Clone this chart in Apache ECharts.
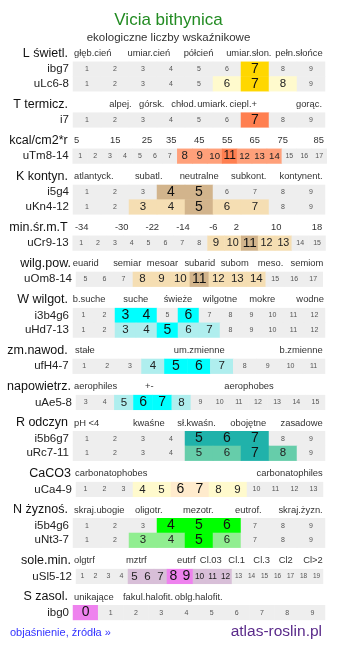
<!DOCTYPE html>
<html><head><meta charset="utf-8">
<script src="https://cdn.jsdelivr.net/npm/echarts@6/dist/echarts.min.js"></script>
<style>html,body{margin:0;padding:0;background:#fff}#c{width:337px;height:649px}</style>
</head><body><div id="c"></div>
<script>
// ---------- data ----------
const titleText = 'Vicia bithynica';
const subtitleText = 'ekologiczne liczby wskaźnikowe';
const sectionNames = ['L świetl.','T termicz.','kcal/cm2*r','K kontyn.','min.śr.m.T','wilg.pow.','W wilgot.','zm.nawod.','napowietrz.','R odczyn','CaCO3','N żyznoś.','sole.min.','S zasol.'];
const sectionRowCount = [2,1,1,2,1,1,2,1,1,2,1,2,1,1];
const hdrL = ['głęb.cień','umiar.cień','półcień','umiar.słon.','pełn.słońce'];
const hdrT = ['alpej.','górsk.','chłod.','umiark.','ciepl.+','gorąc.'];
const hdrKcal = ['5','15','25','35','45','55','65','75','85'];
const hdrK = ['atlantyck.','subatl.','neutralne','subkont.','kontynent.'];
const hdrMin = ['-34','-30','-22','-14','-6','2','10','18'];
const hdrWilg = ['euarid','semiar','mesoar','subarid','subom','meso.','semiom'];
const hdrW = ['b.suche','suche','świeże','wilgotne','mokre','wodne'];
const hdrZm = ['stałe','um.zmienne','b.zmienne'];
const hdrNap = ['aerophiles','+-','aerophobes'];
const hdrR = ['pH <4','kwaśne','sł.kwaśn.','obojętne','zasadowe'];
const hdrCa = ['carbonatophobes','carbonatophiles'];
const hdrN = ['skraj.ubogie','oligotr.','mezotr.','eutrof.','skraj.żyzn.'];
const hdrSole = ['olgtrf','mztrf','eutrf','Cl.03','Cl.1','Cl.3','Cl2','Cl>2'];
const hdrS = ['unikające','fakul.halofit.','oblg.halofit.'];
const headerTexts = [hdrL,hdrT,hdrKcal,hdrK,hdrMin,hdrWilg,hdrW,hdrZm,hdrNap,hdrR,hdrCa,hdrN,hdrSole,hdrS];

const rowNames = ['ibg7','uLc6-8','i7','uTm8-14','i5g4','uKn4-12','uCr9-13','uOm8-14','i3b4g6','uHd7-13','ufH4-7','uAe5-8','i5b6g7','uRc7-11','uCa4-9','i5b4g6','uNt3-7','uSl5-12','ibg0'];
const rowFrom = [1,1,1,1,1,1,1,5,1,1,1,3,1,1,1,1,1,1,0];
const rowTo   = [9,9,9,17,9,9,15,17,12,12,11,15,9,9,13,9,9,19,9];
const rowStrong = [[7],[7],[7],[11],[4,5],[5],[11],[11],[3,4,6],[5],[5,6],[6,7],[5,6,7],[7],[6,7],[4,5,6],[5],[8,9],[0]];
const rowWeak = [[],[6,8],[],[8,9,10,12,13,14],[],[3,4,6,7],[9,10,12,13],[8,9,10,12,13,14],[],[3,4,6,7],[4,7],[5,8],[],[5,6,8],[4,5,8,9],[],[3,4,6],[5,6,7,10,11,12],[]];
const footerLeft = 'objaśnienie, źródła »';
const footerRight = 'atlas-roslin.pl';

// ---------- layout & style ----------
const FONT = '"Liberation Sans", Arial, sans-serif';
const sectionStrongColor = ['#ffd700','#ff7f50','#ff7f50','#d2b48c','#d2b48c','#d2b48c','#00ffff','#00ffff','#00ffff','#20b2aa','#ffebcd','#00ff00','#ee82ee','#ee82ee'];
const sectionWeakColor   = ['#fffacd','#ffa07a','#ffa07a','#f5deb3','#f5deb3','#f5deb3','#afeeee','#afeeee','#afeeee','#66cdaa','#fffacd','#90ee90','#d8bfd8','#d8bfd8'];
const sectionLeft  = [73,73,72.7,73,72.7,76,73,72.7,76,73,76,73,76,73];
const sectionRight = [325,325,326.7,325,325.5,322.7,325,325,325,325,323,325,323,325];
const headerAnchors = [
  [[74,'l'],[148.8,'c'],[198.5,'c'],[248.8,'c'],[322.7,'r']],
  [[120.5,'c'],[151.7,'c'],[183.8,'c'],[212.5,'c'],[243.3,'c'],[322,'r']],
  [[74,'l'],[115.2,'c'],[147,'c'],[171.2,'c'],[199.3,'c'],[227.2,'c'],[254.7,'c'],[282.8,'c'],[324,'r']],
  [[74,'l'],[148.7,'c'],[199.2,'c'],[248.7,'c'],[322.7,'r']],
  [[75,'l'],[121.7,'c'],[152.3,'c'],[183,'c'],[213.3,'c'],[236.3,'c'],[276.3,'c'],[322.3,'r']],
  [[72.7,'l'],[127.2,'c'],[162.5,'c'],[199.8,'c'],[234.7,'c'],[270.5,'c'],[323.3,'r']],
  [[72.7,'l'],[135.8,'c'],[178,'c'],[220,'c'],[262.2,'c'],[324,'r']],
  [[75,'l'],[199.2,'c'],[322.7,'r']],
  [[74,'l'],[149.2,'c'],[249,'c']],
  [[74,'l'],[148.8,'c'],[196.5,'c'],[248.3,'c'],[322.7,'r']],
  [[75,'l'],[322.7,'r']],
  [[74,'l'],[148.8,'c'],[198.3,'c'],[248.3,'c'],[322.7,'r']],
  [[74,'l'],[136.3,'c'],[186.3,'c'],[210.8,'c'],[236.7,'c'],[261.7,'c'],[285.8,'c'],[322.7,'r']],
  [[74,'l'],[148,'c'],[198.7,'c']]
];
const ROW_H = 14.7, HDR_TO_ROW = 8.3, ROW_TO_HDR = 13.15, FIRST_HDR = 53.5;
const GRAY = '#eeeeee';

const grids = [], xAxes = [], yAxes = [], series = [], graphics = [];
const alignMap = {l:'left', c:'center', r:'right'};

function txt(text, x, y, size, color, align) {
  return {type:'text', x:x, y:y, silent:true,
    style:{text:text, fill:color, fontSize:size, fontFamily:FONT, align:align, verticalAlign:'middle'}};
}

graphics.push(txt(titleText, 168.5, 20, 17, '#228b22', 'center'));
graphics.push(txt(subtitleText, 168.5, 38, 11.5, '#333', 'center'));

let y = FIRST_HDR, r = 0;
sectionNames.forEach((name, s) => {
  const left = sectionLeft[s], right = sectionRight[s];
  graphics.push(txt(name, left - 5, y, 12.5, '#111', 'right'));
  headerTexts[s].forEach((h, k) => {
    const a = headerAnchors[s][k];
    graphics.push(txt(h, a[0], y, 9.4, '#333', alignMap[a[1]]));
  });
  let top = y + HDR_TO_ROW;
  for (let n = 0; n < sectionRowCount[s]; n++, r++) {
    const cells = [];
    for (let v = rowFrom[r]; v <= rowTo[r]; v++) cells.push(v);
    const cw = (right - left) / cells.length;
    const gi = grids.length;
    grids.push({left:left, top:top, width:right-left, height:ROW_H});
    xAxes.push({type:'category', gridIndex:gi, data:cells.map(String), show:false});
    yAxes.push({type:'category', gridIndex:gi, data:[rowNames[r]],
      axisLine:{show:false}, axisTick:{show:false}, splitLine:{show:false},
      axisLabel:{fontSize:11.5, color:'#222', fontFamily:FONT, margin:4}});
    const strong = rowStrong[r], weak = rowWeak[r];
    series.push({type:'heatmap', xAxisIndex:gi, yAxisIndex:gi, silent:true, animation:false,
      label:{show:true, formatter:p => String(p.value[2]), fontFamily:FONT},
      emphasis:{disabled:true},
      data:cells.map((v, i) => {
        const two = v >= 10;
        let color = GRAY, fs = 7, fc = '#555';
        if (strong.indexOf(v) >= 0) {
          color = sectionStrongColor[s]; fc = '#111';
          fs = two ? Math.min(14, cw * 0.8) : 14;
        } else if (weak.indexOf(v) >= 0) {
          color = sectionWeakColor[s]; fc = '#222';
          fs = two ? Math.min(11.5, cw * 0.64) : 11.5;
        } else if (two) {
          fs = Math.min(7, cw * 0.5);
        }
        return {value:[i, 0, v], itemStyle:{color:color}, label:{fontSize:fs, color:fc}};
      })
    });
    top += ROW_H;
  }
  y = top + ROW_TO_HDR;
});

graphics.push(txt(footerLeft, 10, 633, 11, '#3333ff', 'left'));
graphics.push(txt(footerRight, 322, 632, 15.5, '#5a2a8a', 'right'));

const chart = echarts.init(document.getElementById('c'), null, {renderer:'canvas'});
chart.setOption({animation:false, grid:grids, xAxis:xAxes, yAxis:yAxes, series:series, graphic:graphics});
</script></body></html>
